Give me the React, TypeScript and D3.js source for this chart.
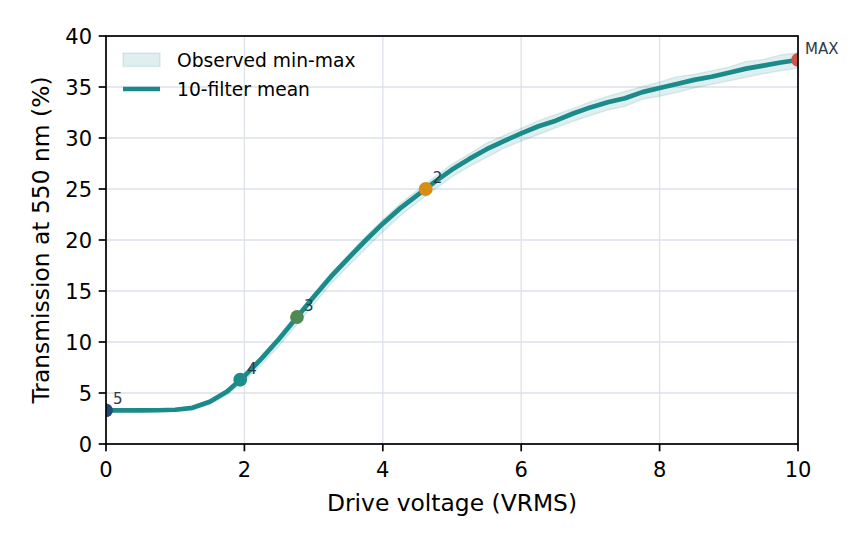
import React from 'react';
import * as d3 from 'd3';

// drive voltage samples (VRMS)
const voltages = [
    0, 0.25, 0.5, 0.75, 1, 1.25, 1.5, 1.75, 2, 2.25, 2.5, 2.75, 3, 3.25, 3.5, 3.75, 4, 4.25, 4.5, 4.75,
    5, 5.25, 5.5, 5.75, 6, 6.25, 6.5, 6.75, 7, 7.25, 7.5, 7.75, 8, 8.25, 8.5, 8.75, 9, 9.25, 9.5, 9.75, 10,
];

// 10-filter mean transmission (%)
const meanValues = [
    3.3, 3.3, 3.3, 3.31, 3.36, 3.55, 4.15, 5.15, 6.65, 8.4, 10.3, 12.35, 14.4, 16.4, 18.2, 19.95, 21.6, 23.1, 24.4, 25.7,
    26.9, 27.95, 28.9, 29.7, 30.45, 31.15, 31.7, 32.4, 33.0, 33.5, 33.9, 34.5, 34.9, 35.3, 35.7, 36.0, 36.4, 36.8, 37.1, 37.4, 37.65,
];

// observed max across filters
const maxValues = [
    3.4, 3.4, 3.4, 3.41, 3.46, 3.67, 4.3, 5.35, 6.9, 8.7, 10.6, 12.65, 14.7, 16.75, 18.55, 20.35, 22.0, 23.55, 24.9, 26.2,
    27.45, 28.45, 29.5, 30.25, 30.95, 31.7, 32.3, 32.9, 33.55, 34.1, 34.55, 35.05, 35.5, 36.0, 36.25, 36.6, 36.95, 37.5, 37.7, 38.15, 38.35,
];

// observed min across filters
const minValues = [
    3.2, 3.2, 3.2, 3.21, 3.24, 3.4, 3.9, 4.8, 6.15, 7.8, 9.6, 11.65, 13.65, 15.7, 17.45, 19.15, 20.8, 22.35, 23.7, 24.95,
    26.2, 27.2, 28.1, 29.0, 29.7, 30.35, 31.0, 31.65, 32.2, 32.75, 33.1, 33.8, 34.1, 34.45, 34.9, 35.25, 35.6, 35.95, 36.3, 36.6, 36.85,
];

// grey-level markers
const levelLabels = ['5', '4', '3', '2', 'MAX'];
const levelVoltages = [0, 1.94, 2.76, 4.62, 10];
const levelTransmission = [3.3, 6.3, 12.45, 25.0, 37.65];
const levelColors = ['#1f4a7a', '#1f8c8c', '#4f8a55', '#d68f12', '#d1544c'];

const xTicks = [0, 2, 4, 6, 8, 10];
const yTicks = [0, 5, 10, 15, 20, 25, 30, 35, 40];

const W = 866;
const H = 544;
const margin = { top: 36, right: 68, bottom: 100, left: 106 };
const font = 'DejaVu Sans, sans-serif';
const teal = '#1a8a8a';

const App: React.FC = () => {
    const x = d3.scaleLinear().domain([0, 10]).range([margin.left, W - margin.right]);
    const y = d3.scaleLinear().domain([0, 40]).range([H - margin.bottom, margin.top]);

    const rows = voltages.map((v, i) => ({ v, mean: meanValues[i], lo: minValues[i], hi: maxValues[i] }));

    const band = d3.area<typeof rows[number]>()
        .x(d => x(d.v))
        .y0(d => y(d.lo))
        .y1(d => y(d.hi));

    const line = d3.line<typeof rows[number]>()
        .x(d => x(d.v))
        .y(d => y(d.mean));

    const [x0, x1] = x.range();
    const [y0, y1] = y.range();

    return (
        <svg width={W} height={H} style={{ position: 'absolute', left: 0, top: 0, background: '#fff' }} fontFamily={font}>
            <defs>
                <clipPath id="plot">
                    <rect x={x0} y={y1} width={x1 - x0} height={y0 - y1} />
                </clipPath>
            </defs>

            {/* grid */}
            {xTicks.map(t => (
                <line key={'gx' + t} x1={x(t)} x2={x(t)} y1={y1} y2={y0} stroke="#dde1ea" strokeWidth={1.3} />
            ))}
            {yTicks.map(t => (
                <line key={'gy' + t} x1={x0} x2={x1} y1={y(t)} y2={y(t)} stroke="#dde1ea" strokeWidth={1.3} />
            ))}

            <g clipPath="url(#plot)">
                <path d={band(rows) || ''} fill={teal} fillOpacity={0.14} stroke={teal} strokeOpacity={0.12} strokeWidth={1.5} />
                <path d={line(rows) || ''} fill="none" stroke={teal} strokeWidth={4.7} strokeLinejoin="round" strokeLinecap="round" />
                {levelLabels.map((l, i) => (
                    <circle key={l} cx={x(levelVoltages[i])} cy={y(levelTransmission[i])} r={6.9} fill={levelColors[i]} />
                ))}
            </g>

            {levelLabels.map((l, i) => (
                <text key={'t' + l} x={x(levelVoltages[i]) + 7} y={y(levelTransmission[i]) - 6}
                    fontSize={15} fill="#2d3a4a">{l}</text>
            ))}

            {/* frame */}
            <rect x={x0} y={y1} width={x1 - x0} height={y0 - y1} fill="none" stroke="#000" strokeWidth={1.7} />

            {/* x axis ticks */}
            {xTicks.map(t => (
                <g key={'xt' + t}>
                    <line x1={x(t)} x2={x(t)} y1={y0} y2={y0 + 7.3} stroke="#000" strokeWidth={1.7} />
                    <text x={x(t)} y={y0 + 33} textAnchor="middle" fontSize={21}>{t}</text>
                </g>
            ))}
            {/* y axis ticks */}
            {yTicks.map(t => (
                <g key={'yt' + t}>
                    <line x1={x0 - 7.3} x2={x0} y1={y(t)} y2={y(t)} stroke="#000" strokeWidth={1.7} />
                    <text x={x0 - 14} y={y(t) + 7.6} textAnchor="end" fontSize={21}>{t}</text>
                </g>
            ))}

            <text x={(x0 + x1) / 2} y={511} textAnchor="middle" fontSize={23.4}>Drive voltage (VRMS)</text>
            <text transform={`translate(49,${(y0 + y1) / 2}) rotate(-90)`} textAnchor="middle" fontSize={23.4}>
                Transmission at 550 nm (%)
            </text>

            {/* legend */}
            <rect x={123} y={53} width={37} height={13.5} fill={teal} fillOpacity={0.14} stroke={teal} strokeOpacity={0.12} strokeWidth={1.5} />
            <text x={177} y={66.5} fontSize={18.7}>Observed min-max</text>
            <line x1={123} x2={160} y1={89} y2={89} stroke={teal} strokeWidth={4.7} />
            <text x={177} y={95.5} fontSize={18.7}>10-filter mean</text>
        </svg>
    );
};

export default App;
